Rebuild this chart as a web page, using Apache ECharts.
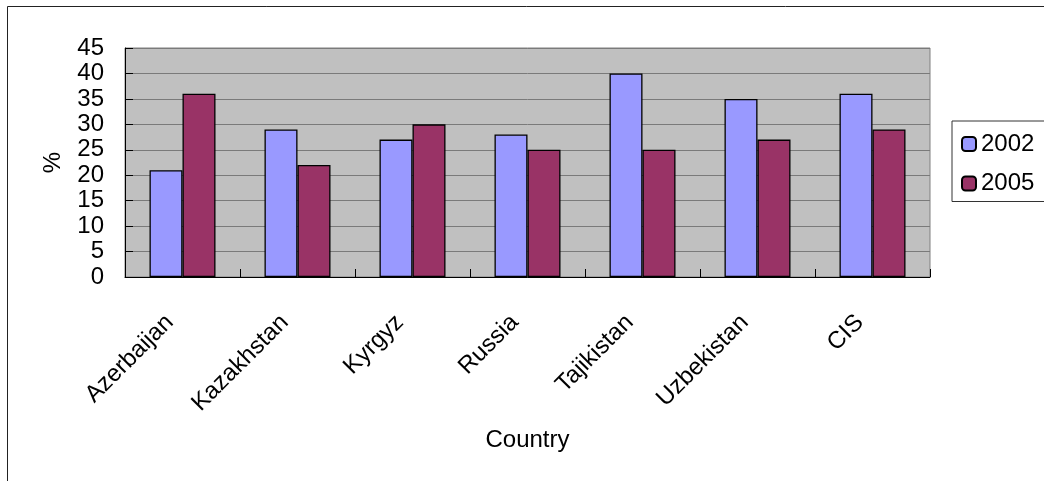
<!DOCTYPE html>
<html>
<head>
<meta charset="utf-8">
<script src="https://cdn.jsdelivr.net/npm/echarts@6/dist/echarts.min.js"></script>
<style>
  html, body { margin: 0; padding: 0; background: #ffffff; }
  #chart { width: 1044px; height: 481px; }
</style>
</head>
<body>
<div id="chart"></div>
<script>
// Share (%) by country, 2002 vs 2005
const countries = ['Azerbaijan', 'Kazakhstan', 'Kyrgyz', 'Russia', 'Tajikistan', 'Uzbekistan', 'CIS'];
const values2002 = [21, 29, 27, 28, 40, 35, 36];
const values2005 = [36, 22, 30, 25, 25, 27, 29];
const yTicks = { min: 0, max: 45, interval: 5 };

const FONT = '"Liberation Sans", Arial, sans-serif';

const chart = echarts.init(document.getElementById('chart'), null, { renderer: 'canvas' });

chart.setOption({
  animation: false,
  backgroundColor: '#ffffff',
  textStyle: { fontFamily: FONT, color: '#000' },
  graphic: [{
    type: 'rect',
    shape: { x: 7.5, y: 6.5, width: 1200, height: 600 },
    style: { fill: 'none', stroke: '#222', lineWidth: 1 },
    silent: true,
    z: 100
  }],
  grid: {
    left: 125, top: 48, right: 114, bottom: 204,
    show: true,
    backgroundColor: '#C0C0C0',
    borderColor: '#808080',
    borderWidth: 1
  },
  legend: {
    orient: 'vertical',
    left: 952, top: 121,
    padding: [10, 20, 5, 9],
    itemGap: 13.5,
    itemWidth: 14, itemHeight: 14,
    borderColor: '#333', borderWidth: 1,
    backgroundColor: '#ffffff',
    textStyle: { fontFamily: FONT, fontSize: 24, color: '#000', lineHeight: 26 },
    data: ['2002', '2005']
  },
  xAxis: {
    type: 'category',
    data: countries,
    name: 'Country',
    nameLocation: 'middle',
    nameGap: 151,
    nameTextStyle: { fontFamily: FONT, fontSize: 24, color: '#000' },
    axisLine: { lineStyle: { color: '#000', width: 1 } },
    axisTick: { show: true, inside: true, length: 8, lineStyle: { color: '#000' } },
    axisLabel: {
      rotate: 45, margin: 29, padding: [0, 18, 0, 0],
      fontFamily: FONT, fontSize: 24, color: '#000'
    },
    splitLine: { show: false }
  },
  yAxis: {
    type: 'value',
    min: yTicks.min, max: yTicks.max, interval: yTicks.interval,
    name: '%',
    nameLocation: 'middle',
    nameGap: 60,
    nameRotate: 90,
    nameTextStyle: { fontFamily: FONT, fontSize: 24, color: '#000' },
    axisLine: { show: true, lineStyle: { color: '#000', width: 1 } },
    axisTick: { show: true, inside: true, length: 8, lineStyle: { color: '#000' } },
    axisLabel: { margin: 21, fontFamily: FONT, fontSize: 24, color: '#000' },
    splitLine: { show: true, lineStyle: { color: '#7a7a7a', width: 1 } }
  },
  series: [
    {
      name: '2002', type: 'bar', data: values2002,
      barWidth: 33, barGap: '0%',
      itemStyle: { color: '#9999FF', borderColor: '#000', borderWidth: 1.3 }
    },
    {
      name: '2005', type: 'bar', data: values2005,
      barWidth: 33, barGap: '0%',
      itemStyle: { color: '#993366', borderColor: '#000', borderWidth: 1.3 }
    }
  ]
});
</script>
</body>
</html>
